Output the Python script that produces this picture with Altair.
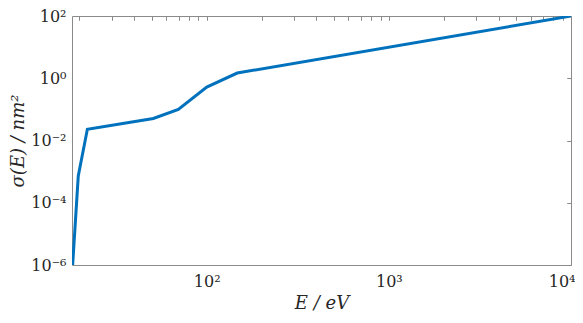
import altair as alt
import pandas as pd

# data
energy = [18.35, 19.7, 22.1, 50.9, 69.8, 100, 147, 10000]
sigma = [1e-6, 7.2e-4, 0.023, 0.051, 0.10, 0.52, 1.47, 100]

x_major = [100, 1000, 10000]
x_major_labels = ["10²", "10³", "10⁴"]
x_minor = [20, 30, 40, 50, 60, 70, 80, 90,
           200, 300, 400, 500, 600, 700, 800, 900,
           2000, 3000, 4000, 5000, 6000, 7000, 8000, 9000]
y_major = [1e-6, 1e-4, 1e-2, 1, 100]
y_major_labels = ["10⁻⁶", "10⁻⁴", "10⁻²", "10⁰", "10²"]

df = pd.DataFrame({"E": energy, "sigma": sigma})


def label_expr(values, labels):
    expr = "''"
    for v, lab in zip(reversed(values), reversed(labels)):
        expr = f"abs(datum.value - {v!r}) < {v * 1e-6!r} ? '{lab}' : " + expr
    return expr


xs = alt.Scale(type="log", domain=[18.2, 10000], nice=False)
ys = alt.Scale(type="log", domain=[1e-6, 100], nice=False)

AX = "#8a8a8a"
TXT = "#262626"
FONT = "DejaVu Serif"

base = alt.Chart(df)

line = base.mark_line(color="#0072BD", strokeWidth=3, clip=True).encode(
    x=alt.X("E:Q", scale=xs, axis=alt.Axis(
        values=x_major, labelExpr=label_expr(x_major, x_major_labels),
        ticks=False, domain=False, grid=False, labelPadding=8,
        labelFlush=True, labelFlushOffset=4,
        title="E / eV", titlePadding=5)),
    y=alt.Y("sigma:Q", scale=ys, axis=alt.Axis(
        values=y_major, labelExpr=label_expr(y_major, y_major_labels),
        ticks=False, domain=False, grid=False, labelPadding=6,
        labelFlush=False, title="σ(E) / nm²", titlePadding=3)),
)

ticks_in = base.mark_line(opacity=0).encode(
    x=alt.X("E:Q", scale=xs, axis=alt.Axis(
        values=x_major + x_minor, labels=False, domain=False, grid=False,
        tickSize=4, offset=-4, title=None)),
    y=alt.Y("sigma:Q", scale=ys, axis=alt.Axis(
        values=y_major, labels=False, domain=False, grid=False,
        tickSize=4, offset=-4, title=None)),
)

ticks_out = base.mark_line(opacity=0).encode(
    x=alt.X("E:Q", scale=xs, axis=alt.Axis(
        orient="top", values=x_major + x_minor, labels=False, domain=False,
        grid=False, tickSize=4, offset=-4, title=None)),
    y=alt.Y("sigma:Q", scale=ys, axis=alt.Axis(
        orient="right", values=y_major, labels=False, domain=False,
        grid=False, tickSize=4, offset=-4, title=None)),
)

chart = alt.layer(line, ticks_in, ticks_out).resolve_axis(
    x="independent", y="independent"
).properties(
    width=499, height=249,
    padding={"left": 64, "top": 8, "right": 4, "bottom": 50},
    autosize=alt.AutoSizeParams(type="none"),
).configure_view(
    stroke=AX, strokeWidth=1
).configure_axis(
    labelFont=FONT, labelFontSize=16, labelColor=TXT,
    titleFont=FONT, titleFontSize=18, titleColor=TXT,
    titleFontStyle="italic", titleFontWeight="normal",
    tickColor=AX, tickWidth=1,
)

chart.save("out.html", embed_options={"renderer": "svg", "actions": False})
